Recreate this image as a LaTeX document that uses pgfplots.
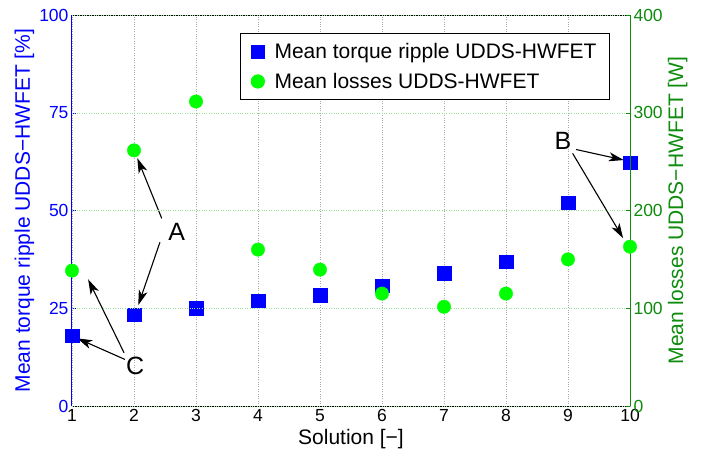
\documentclass[border=0pt]{standalone}
\usepackage{pgfplots}
\pgfplotsset{compat=1.18}
\usepackage{fontspec}
\setmainfont{Liberation Sans}
\usetikzlibrary{arrows.meta}
\definecolor{mblue}{rgb}{0,0,1}
\definecolor{mgreen}{rgb}{0,1,0}
\definecolor{dgreen}{rgb}{0.05,0.55,0.05}
\definecolor{lgreen}{rgb}{0.6,0.88,0.6}
\begin{document}
\begin{tikzpicture}
\pgfplotsset{every axis/.append style={scale only axis, width=558pt, height=391pt,
  at={(72pt,44pt)}, anchor=south west, xmin=1, xmax=10, clip=false,
  /pgf/number format/assume math mode=true,
  tick label style={font=\fontsize{17.5}{17.5}\selectfont},
  label style={font=\fontsize{21}{21}\selectfont},
  tick align=inside, major tick length=4pt}}
\begin{axis}[
  ymin=0, ymax=100, ytick={0,25,50,75,100}, xtick={1,...,10},
  axis y line*=left, y axis line style={mblue, line width=1pt},
  x axis line style={black, line width=0.8pt},
  yticklabel style={mblue}, ytick style={mblue},
  xtick style={draw=none},
  xmajorgrids, major grid style={gray!70, dotted},
  xlabel={Solution [−]}, ylabel={Mean torque ripple UDDS−HWFET [\%]},
  xlabel style={at={(axis description cs:0.5,-0.0972)}, anchor=base},
  ylabel style={mblue, at={(axis description cs:-0.0753,0.5)}, anchor=base, rotate=0},
]
\addplot[only marks, mark=square*, mark size=6.8pt, mark options={fill=mblue, draw=mblue}]
 coordinates {(1,18) (2,23.3) (3,25) (4,26.9) (5,28.4) (6,30.8) (7,34) (8,36.9) (9,52) (10,62.2)};
\tikzset{arr/.style={line width=1.1pt, -{Stealth[length=15pt,width=9pt,inset=4pt]}}}
\draw[arr] (2.447,48.0) -- (2.053,63.4);
\draw[arr] (2.419,41.9) -- (2.069,25.8);
\node[font=\fontsize{25}{25}\selectfont] at (2.69,44.6) {A};
\draw[arr] (9.13,65.6) -- (9.90,62.9);
\draw[arr] (9.075,64.6) -- (9.89,42.9);
\node[font=\fontsize{25}{25}\selectfont] at (8.92,67.9) {B};
\draw[arr] (1.855,11.9) -- (1.085,17.3);
\draw[arr] (1.84,13.6) -- (1.26,32.4);
\node[font=\fontsize{25}{25}\selectfont] at (2.02,10.2) {C};
\end{axis}
\begin{axis}[
  ymin=0, ymax=400, ytick={0,100,...,400},
  axis y line*=right, axis x line=none,
  y axis line style={dgreen, line width=1pt},
  yticklabel style={dgreen}, ytick style={dgreen},
  ymajorgrids, major grid style={lgreen, dotted},
  ylabel={Mean losses UDDS−HWFET [W]},
  ylabel style={dgreen, at={(axis description cs:1.095,0.5)}, anchor=base, rotate=0},
  legend style={at={(0.9642,0.954)}, anchor=north east, draw=black, line width=0.8pt,
    font=\fontsize{21}{21}\selectfont, row sep=9pt, inner xsep=11pt, inner ysep=8pt,
    /tikz/every odd column/.append style={column sep=8pt}},
  legend cell align=left,
]
\addlegendimage{only marks, mark=square*, mark size=6.7pt, mark options={fill=mblue, draw=mblue}}
\addlegendentry{Mean torque ripple UDDS-HWFET}
\addplot[only marks, mark=*, mark size=6.7pt, mark options={fill=mgreen, draw=mgreen}]
 coordinates {(1,138.5) (2,261.5) (3,311.5) (4,160) (5,139.5) (6,115) (7,101.5) (8,115) (9,150) (10,163)};
\addlegendentry{Mean losses UDDS-HWFET}
\end{axis}
\pgfresetboundingbox
\path[use as bounding box] (0,0) rectangle (704pt,450pt);
\end{tikzpicture}
\end{document}
